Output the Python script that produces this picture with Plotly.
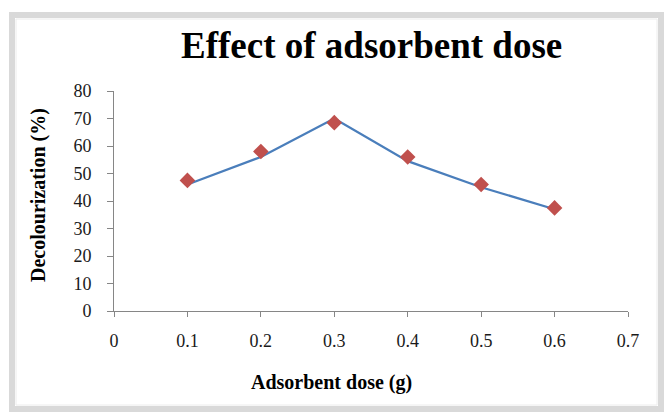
import plotly.graph_objects as go

# Data
dose = [0.1, 0.2, 0.3, 0.4, 0.5, 0.6]
decolour_line = [46.0, 56.0, 70.0, 54.5, 45.0, 37.0]
decolour_points = [47.5, 58.0, 68.5, 56.0, 46.0, 37.5]
x_ticks = [0, 0.1, 0.2, 0.3, 0.4, 0.5, 0.6, 0.7]
x_tick_labels = ["0", "0.1", "0.2", "0.3", "0.4", "0.5", "0.6", "0.7"]
y_ticks = [0, 10, 20, 30, 40, 50, 60, 70, 80]

title_text = "Effect of adsorbent dose"
x_title = "Adsorbent dose (g)"
y_title = "Decolourization (%)"

W, H = 667, 417
L, R, T, B = 114, 39, 91, 106
pw, ph = W - L - R, H - T - B


def px(x):
    return (x - L) / pw


def py(y):
    return (H - B - y) / ph


SERIF = "Liberation Serif, Times New Roman, serif"

fig = go.Figure()
fig.add_trace(go.Scatter(x=dose, y=decolour_line, mode="lines",
                         line=dict(color="#4a7ebb", width=2.25),
                         showlegend=False, hoverinfo="skip"))
fig.add_trace(go.Scatter(x=dose, y=decolour_points, mode="markers",
                         marker=dict(symbol="diamond", size=12, color="#c0504d",
                                     line=dict(width=0)),
                         showlegend=False))

fig.update_layout(
    width=W, height=H,
    margin=dict(l=L, r=R, t=T, b=B),
    paper_bgcolor="white", plot_bgcolor="white",
    font=dict(family=SERIF, color="#1a1a1a", size=18),
    xaxis=dict(range=[0, 0.7], tickvals=x_ticks, ticktext=x_tick_labels,
               showgrid=False, zeroline=False, showline=True,
               linecolor="#868686", linewidth=1, ticks="outside",
               ticklen=5, tickcolor="#868686", ticklabelstandoff=8,
               tickfont=dict(family=SERIF, size=18, color="#1a1a1a")),
    yaxis=dict(range=[0, 80], tickvals=y_ticks,
               showgrid=False, zeroline=False, showline=True,
               linecolor="#868686", linewidth=1, ticks="outside",
               ticklen=6, tickcolor="#868686", ticklabelstandoff=12,
               tickfont=dict(family=SERIF, size=18, color="#1a1a1a")),
    shapes=[
        dict(type="rect", xref="paper", yref="paper",
             x0=px(12), x1=px(661), y0=py(409), y1=py(15),
             line=dict(color="#d9d9d9", width=6), layer="below"),
        dict(type="rect", xref="paper", yref="paper",
             x0=px(16), x1=px(657), y0=py(405), y1=py(19),
             line=dict(color="#ececec", width=1), layer="below"),
    ],
    annotations=[
        dict(text="<b>" + title_text + "</b>", xref="paper", yref="paper",
             x=px(371), y=py(46), xanchor="center", yanchor="middle",
             showarrow=False, font=dict(family=SERIF, size=37, color="#000000")),
        dict(text="<b>" + x_title + "</b>", xref="paper", yref="paper",
             x=px(331), y=py(382), xanchor="center", yanchor="middle",
             showarrow=False, font=dict(family=SERIF, size=20, color="#000000")),
        dict(text="<b>" + y_title + "</b>", xref="paper", yref="paper",
             x=px(38), y=py(195), xanchor="center", yanchor="middle",
             textangle=-90, showarrow=False,
             font=dict(family=SERIF, size=20, color="#000000")),
    ],
)

fig.write_html("out.html", config={"displayModeBar": False},
               post_script="document.body.style.margin='0';document.body.style.overflow='hidden';")
